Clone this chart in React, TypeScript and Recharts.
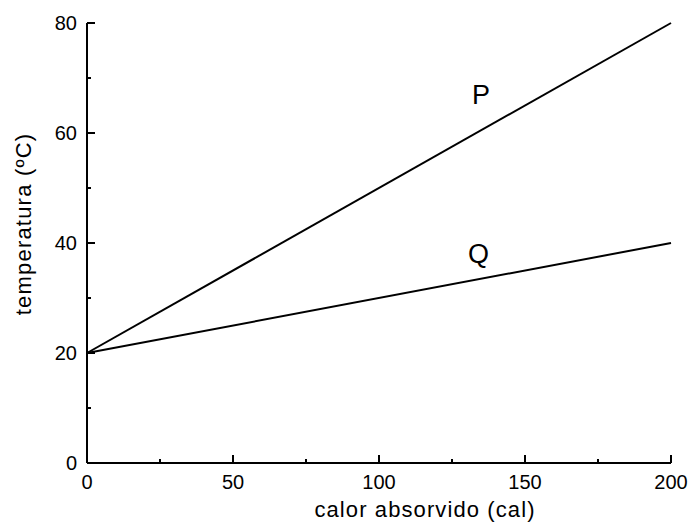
import { LineChart, Line, XAxis, YAxis, Customized } from 'recharts'

const HEAT = [0, 200]
const TEMP_P = [20, 80]
const TEMP_Q = [20, 40]
const X_TICKS = [0, 25, 50, 75, 100, 125, 150, 175, 200]
const X_MAJOR = [0, 50, 100, 150, 200]
const Y_TICKS = [0, 10, 20, 30, 40, 50, 60, 70, 80]
const Y_MAJOR = [0, 20, 40, 60, 80]

const data = HEAT.map((h, i) => ({ heat: h, p: TEMP_P[i], q: TEMP_Q[i] }))

const FONT = '"Liberation Sans", Arial, sans-serif'

function XTick({ x, y, payload }: any) {
  const major = X_MAJOR.includes(payload.value)
  return (
    <g>
      <line x1={x} x2={x} y1={y} y2={y - (major ? 8 : 4)} stroke="#000" strokeWidth={2} />
      {major && (
        <text x={x} y={y + 26} textAnchor="middle" fontSize={20} fontFamily={FONT} fill="#000">
          {payload.value}
        </text>
      )}
    </g>
  )
}

function YTick({ x, y, payload }: any) {
  const major = Y_MAJOR.includes(payload.value)
  return (
    <g>
      <line x1={x} x2={x + (major ? 8 : 4)} y1={y} y2={y} stroke="#000" strokeWidth={2} />
      {major && (
        <text x={x - 10} y={y + 7} textAnchor="end" fontSize={20} fontFamily={FONT} fill="#000">
          {payload.value}
        </text>
      )}
    </g>
  )
}

function Labels() {
  return (
    <g fontFamily={FONT} fill="#000">
      <text x={425} y={517} textAnchor="middle" fontSize={22} letterSpacing={1.1}>
        calor absorvido (cal)
      </text>
      <text transform="translate(31,224) rotate(-90)" textAnchor="middle" fontSize={22} letterSpacing={1.2}>
        temperatura (ºC)
      </text>
      <text x={472} y={104} fontSize={27}>P</text>
      <text x={468} y={263} fontSize={27}>Q</text>
    </g>
  )
}

export default function App() {
  return (
    <div style={{ position: 'absolute', left: 0, top: 0, background: '#fff' }}>
      <LineChart width={692} height={526} data={data} margin={{ top: 23, right: 21, bottom: 0, left: 0 }}>
        <XAxis
          dataKey="heat"
          type="number"
          domain={[0, 200]}
          ticks={X_TICKS}
          height={63}
          tickSize={0}
          tickMargin={0}
          tickLine={false}
          axisLine={{ stroke: '#000', strokeWidth: 2 }}
          tick={<XTick />}
          interval={0}
        />
        <YAxis
          type="number"
          domain={[0, 80]}
          ticks={Y_TICKS}
          width={87}
          tickSize={0}
          tickMargin={0}
          tickLine={false}
          axisLine={{ stroke: '#000', strokeWidth: 2 }}
          tick={<YTick />}
          interval={0}
        />
        <Line dataKey="p" stroke="#000" strokeWidth={2} dot={false} isAnimationActive={false} />
        <Line dataKey="q" stroke="#000" strokeWidth={2} dot={false} isAnimationActive={false} />
        <Customized component={Labels} />
      </LineChart>
    </div>
  )
}
